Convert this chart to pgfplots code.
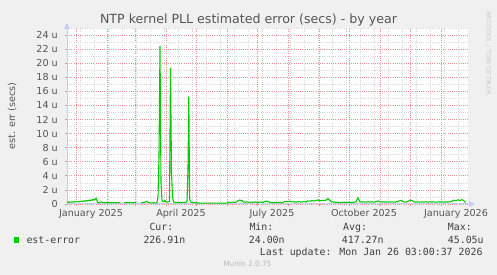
\documentclass[border=0pt]{standalone}
\usepackage{pgfplots}
\pgfplotsset{compat=1.18}
\usepackage{fontspec}
\setmainfont{DejaVu Sans}
\newfontfamily\mono{DejaVu Sans Mono}
\usetikzlibrary{arrows.meta}
\definecolor{canvas}{HTML}{F0F0F0}
\definecolor{gridred}{HTML}{E89090}
\definecolor{gridgrey}{HTML}{D8D8D8}
\definecolor{axisblue}{HTML}{C8CBF2}
\definecolor{linegreen}{HTML}{00CC00}
\definecolor{txt}{HTML}{555555}
\definecolor{legtxt}{HTML}{3F3F3F}
\begin{document}
\begin{tikzpicture}
\path[use as bounding box] (0,0) rectangle (497bp,275bp);
\fill[canvas] (0,0) rectangle (497bp,275bp);
\begin{axis}[
  at={(67bp,71bp)}, anchor=south west,
  scale only axis, width=401bp, height=176bp,
  xmin=-9, xmax=392, ymin=0, ymax=25,
  axis background/.style={fill=white},
  axis x line=bottom, axis y line=left,
  axis line style={color=axisblue, line width=1bp},
  x axis line style={-{Triangle[length=6bp,width=6bp]}, shorten >=-7bp},
  y axis line style={-{Triangle[length=6bp,width=6bp]}, shorten >=-5bp},
  xtick={0,31,59,90,120,151,181,212,243,273,304,334,365},
  xticklabels={},
  minor xtick={4,18,...,389},
  extra x ticks={15,105,196,288,380},
  extra x tick labels={January 2025,April 2025,July 2025,October 2025,January 2026},
  extra x tick style={grid=none, major tick length=0pt},
  ytick={0,2,...,24},
  yticklabels={0,2 u,4 u,6 u,8 u,10 u,12 u,14 u,16 u,18 u,20 u,22 u,24 u},
  minor ytick={1,3,...,25},
  grid=both,
  major grid style={color=gridred, line width=0.7bp, dash pattern=on 1bp off 1.2bp},
  minor grid style={color=gridgrey, line width=0.7bp, dash pattern=on 1bp off 1.2bp},
  tick align=outside, major tick length=2bp, minor tick length=0pt,
  major tick style={color=gridred, line width=0.8bp},
  tick label style={font=\fontsize{9.6bp}{11bp}\selectfont, text=txt, inner sep=0pt},
  xticklabel style={anchor=north, yshift=-5bp},
  yticklabel style={anchor=east, xshift=-7bp},
  ylabel={est. err (secs)},
  every axis y label/.style={at={(axis description cs:0,0.5)}, rotate=90, anchor=center, yshift=55bp, font=\fontsize{9.6bp}{11bp}\selectfont, text=txt},
  unbounded coords=jump,
  clip=false,
]
\addplot[linegreen, line width=1.1bp, line join=round] coordinates {
(-9,0.25) (-8,0.3) (-7,0.22) (-6,0.28) (-5,0.3) (-4,0.25) (-3,0.32) (-2,0.28) (-1,0.35) (0,0.3) (1,0.38) (2,0.32) (3,0.3) (4,0.4) (5,0.35) (6,0.42) (7,0.38) (8,0.45) (9,0.4) (10,0.5) (11,0.42) (12,0.48) (13,0.55) (14,0.45) (15,0.6) (16,0.5) (17,0.7) (18,0.55) (19,0.65) (20,0.85) (21,0.45) (22,0.2)
(23,0.18) (24,0.22) (25,0.3) (26,0.25) (27,0.18) (29,0.2) (31,0.17) (33,0.2) (35,0.18) (37,0.22) (39,0.2) (41,0.17) (43,0.2) (44,0.22) (45,nan)
(48,0.2) (50,0.22) (52,0.18) (54,0.2) (56,0.22) (58,0.18) (60,0.2) (61,nan)
(65,0.18) (67,0.22) (69,0.25) (71,0.4) (72,0.25) (74,0.15) (76,0.15) (78,0.18) (80,0.15) (81,0.2) (82,1) (83,6.7) (84,22.4) (85,3) (86,0.5) (87,0.35) (88,0.3) (89,0.5) (90,0.3) (91,0.25) (92,0.3) (93.5,0.3) (94.5,19.3) (95.5,4.5) (96.5,1) (97.5,0.3) (99,0.22) (101,0.2) (103,0.25) (105,0.2) (107,0.22) (109,0.2) (111,0.3) (112,5) (112.8,15.2) (113.6,0.8) (114.5,0.3) (116,0.2) (118,0.22) (120,0.18) (122,0.15) (124,0.12) (151,0.12)
(153,0.25) (155,0.2) (157,0.28) (159,0.22) (161,0.35) (162,0.45) (164,0.57) (165,0.45) (166,0.5) (167,0.3) (169,0.25) (171,0.3) (173,0.2) (175,0.28) (177,0.22) (179,0.3) (181,0.2) (183,0.25) (185,0.3) (187,0.22) (189,0.38) (191,0.4) (193,0.3) (194,0.2) (196,0.22) (198,0.18) (200,0.25) (202,0.2) (204,0.22) (206,0.18) (208,0.3) (210,0.38) (212,0.35) (214,0.4) (216,0.3) (218,0.32) (220,0.25) (222,0.35) (224,0.28) (226,0.3) (228,0.35) (230,0.28) (232,0.45) (234,0.4) (236,0.5) (238,0.42) (240,0.5) (242,0.57) (244,0.45) (246,0.52) (248,0.5) (250,0.55) (252,0.76) (254,0.5) (256,0.3) (258,0.28) (260,0.2) (262,0.25) (264,0.2) (266,0.22) (268,0.28) (270,0.2) (272,0.25) (274,0.22) (276,0.2) (278,0.25) (280,0.3) (282,0.9) (284,0.3) (286,0.28) (288,0.3) (290,0.25) (292,0.32) (294,0.28) (296,0.3) (298,0.25) (300,0.35) (302,0.43) (304,0.3) (306,0.28) (308,0.32) (310,0.25) (312,0.3) (314,0.28) (316,0.3) (318,0.25) (320,0.3) (322,0.35) (324,0.5) (326,0.45) (328,0.3) (330,0.28) (332,0.35) (334,0.55) (336,0.5) (338,0.3) (340,0.28) (342,0.3) (344,0.25) (346,0.3) (348,0.28) (350,0.32) (352,0.25) (354,0.3) (356,0.28) (358,0.3) (360,0.25) (362,0.3) (364,0.28) (366,0.3) (368,0.25) (370,0.3) (372,0.28) (374,0.32) (376,0.4) (378,0.55) (380,0.45) (382,0.6) (384,0.5) (386,0.62) (388,0.45) (389,0.3) (390,0.23)
};
\end{axis}
% title
\node[anchor=base, inner sep=0pt, text=txt, font=\fontsize{12.6bp}{14bp}\selectfont] at (248.5bp,251bp) {NTP kernel PLL estimated error (secs) - by year};
% watermark
\node[rotate=-90, inner sep=0pt, text=black!20, font=\fontsize{6.5bp}{7bp}\selectfont] at (488.5bp,222bp) {RRDTOOL / TOBI OETIKER};
% legend
\fill[linegreen] (13.7bp,32.3bp) rectangle (19.3bp,37.7bp);
\begin{scope}[every node/.style={inner sep=0pt, text=legtxt, font=\mono\fontsize{9.9bp}{11bp}\selectfont}]
\node[anchor=base west] at (26.3bp,31.7bp) {est-error};
\node[anchor=base west] at (149.3bp,44.3bp) {Cur:};
\node[anchor=base west] at (143.3bp,31.7bp) {226.91n};
\node[anchor=base west] at (249.3bp,44.3bp) {Min:};
\node[anchor=base west] at (248.7bp,31.7bp) {24.00n};
\node[anchor=base west] at (343bp,44.3bp) {Avg:};
\node[anchor=base west] at (341.7bp,31.7bp) {417.27n};
\node[anchor=base west] at (447.7bp,44.3bp) {Max:};
\node[anchor=base west] at (447.7bp,31.7bp) {45.05u};
\node[anchor=base east] at (482.7bp,20bp) {Last update: Mon Jan 26 03:00:37 2026};
\end{scope}
\node[anchor=base, inner sep=0pt, text=black!28, font=\fontsize{7.3bp}{8bp}\selectfont] at (247.5bp,8.3bp) {Munin 2.0.75};
\end{tikzpicture}
\end{document}
